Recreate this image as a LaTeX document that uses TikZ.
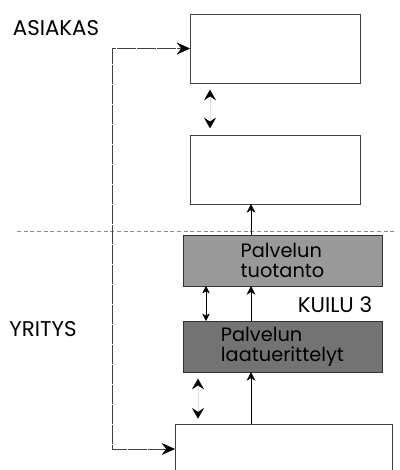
\documentclass[tikz,border=0pt]{standalone}
\usepackage{fontspec}
\setmainfont{Poppins}
\usetikzlibrary{arrows.meta, positioning}

\begin{document}
\begin{tikzpicture}[
        x=0.75pt, y=-0.75pt,
        level/.style={rectangle, draw=black!75, line width=0.5pt, fill=white, minimum width=127.5pt, minimum height=51.75pt, outer sep=0pt},
        gapbox/.style={rectangle, draw=black!80, fill=black!40, minimum width=149.25pt, minimum height=38.25pt, align=left, outer sep=0pt, inner sep=1pt, font=\fontsize{14.5}{15}\selectfont},
        side/.style={inner sep=0pt, font=\fontsize{16}{18}\selectfont},
        arrow/.style={-{Stealth[length=6.5pt, width=6.5pt, inset=2pt]}, thin, color=black},
        twoway/.style={{Stealth[length=8pt, width=9pt, inset=3pt, color=black]}-{Stealth[length=8pt, width=9pt, inset=3pt, color=black]}, thin, draw=black!12},
        link/.style={{Stealth[length=10pt, width=9pt, inset=3.5pt, color=black]}-{Stealth[length=10pt, width=9pt, inset=3.5pt, color=black]}, thin, draw=black!75, dash pattern=on 14pt off 1pt}
    ]
    \useasboundingbox (0,0) rectangle (399,470);

    % Boxes
    \node[level] (odotettu) at (275,48.5) {};
    \node[level, below=39pt of odotettu] (koettu) {};
    \node[gapbox, below=23.25pt of koettu, xshift=5.6pt] (tuotanto) {Palvelun\\tuotanto};
    \node[gapbox, fill=black!55, below=26.25pt of tuotanto] (laatu) {Palvelun\\laatuerittelyt};
    \node[level, minimum width=162.75pt, minimum height=37.5pt, below=39pt of laatu, xshift=0.75pt] (kasitys) {};

    % Labels
    \node[side] (asiakas) at (56,28) {ASIAKAS};
    \node[side] (yritys) at (43,329) {YRITYS};
    \node[side] (kuilu) at (335,305) {KUILU 3};

    % Divider
    \draw[black!45, densely dashed] (17,231) -- (395,231);

    % Connections
    \coordinate (ux) at (251,0);
    \draw[arrow] (tuotanto.north -| ux) -- (koettu.south -| ux);
    \draw[arrow] (laatu.north -| ux) -- (tuotanto.south -| ux);
    \draw[arrow] (kasitys.north -| ux) -- (laatu.south -| ux);

    \coordinate (ax) at (210,0);
    \draw[twoway, shorten <=5pt, shorten >=5pt] (odotettu.south -| ax) -- (koettu.north -| ax);
    \coordinate (bx) at (206,0);
    \draw[{Stealth[length=5.5pt, width=5.5pt, inset=1.5pt]}-{Stealth[length=5.5pt, width=5.5pt, inset=1.5pt]}, thin] (tuotanto.south -| bx) -- (laatu.north -| bx);
    \coordinate (cx) at (198,0);
    \draw[twoway, shorten <=5pt, shorten >=4pt] (laatu.south -| cx) -- (kasitys.north -| cx);

    \draw[link] (kasitys.west) -- ++(-63,0) |- (odotettu.west);

\end{tikzpicture}
\end{document}
